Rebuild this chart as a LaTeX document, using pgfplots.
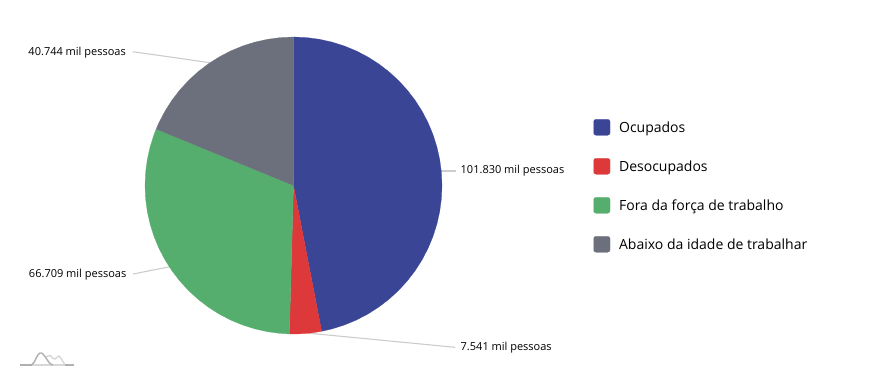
\documentclass[border=0pt]{standalone}
\usepackage{pgfplots}
\pgfplotsset{compat=1.18}
\usepackage{fontspec}
\setmainfont{Open Sans}
\definecolor{cblue}{RGB}{58,69,150}
\definecolor{cred}{RGB}{221,57,58}
\definecolor{cgreen}{RGB}{85,174,110}
\definecolor{cgray}{RGB}{108,112,124}
\definecolor{cline}{RGB}{204,204,204}
\definecolor{clogo}{RGB}{175,175,175}
\definecolor{clogolight}{RGB}{215,215,215}
\begin{document}
\begin{tikzpicture}
\begin{axis}[
  scale only axis, width=889pt, height=376pt,
  xmin=-293.5, xmax=595.5, ymin=-190.5, ymax=185.5,
  hide axis, clip=false,
  legend image code/.code={\fill[#1,rounded corners=2.5pt] (0pt,-8pt) rectangle (16.5pt,8pt);\path[draw=none,fill=none] (0pt,0pt) -- (25.5pt,0pt);},
  legend cell align=left,
  legend style={draw=none, fill=none, font=\fontsize{14}{16}\selectfont,
    at={(axis cs:300,68)}, anchor=north west,
    inner sep=0pt, outer sep=0pt,
    row sep=19.5pt,
    nodes={inner sep=0pt, minimum height=19.5pt, anchor=west, text depth=0pt}},
]
\path (axis cs:-293.5,-190.5) rectangle (axis cs:595.5,185.5);
% leader lines
\addplot[cline, line width=1.1pt, forget plot] coordinates {(-160.8,133.8) (-83.5,122.8)};
\addplot[cline, line width=1.1pt, forget plot] coordinates {(-160.5,-88.5) (-123.5,-81.2)};
\addplot[cline, line width=1.1pt, forget plot] coordinates {(140,14.5) (162,14.5)};
\addplot[cline, line width=1.1pt, forget plot] coordinates {(13.5,-147.5) (161.5,-161.8)};

% Ocupados 101830
\addplot[data cs=polar, fill=cblue, draw=cblue, line width=0.2pt] coordinates {
(0,0) (90,148.5) (85,148.5) (80,148.5) (75,148.5) (70,148.5) (65,148.5) (60,148.5) (55,148.5)
(50,148.5) (45,148.5) (40,148.5) (35,148.5) (30,148.5) (25,148.5) (20,148.5) (15,148.5) (10,148.5)
(5,148.5) (0,148.5) (-5,148.5) (-10,148.5) (-15,148.5) (-20,148.5) (-25,148.5) (-30,148.5)
(-35,148.5) (-40,148.5) (-45,148.5) (-50,148.5) (-55,148.5) (-60,148.5) (-65,148.5) (-70,148.5)
(-75,148.5) (-79.07,148.5) (0,0)} -- cycle;
\addlegendentry{Ocupados}
% Desocupados 7541
\addplot[data cs=polar, fill=cred, draw=cred, line width=0.2pt] coordinates {
(0,0) (-79.07,148.5) (-82,148.5) (-85,148.5) (-88,148.5) (-91.59,148.5) (0,0)} -- cycle;
\addlegendentry{Desocupados}
% Fora da forca de trabalho 66709
\addplot[data cs=polar, fill=cgreen, draw=cgreen, line width=0.2pt] coordinates {
(0,0) (-91.59,148.5) (-95,148.5) (-100,148.5) (-105,148.5) (-110,148.5) (-115,148.5) (-120,148.5)
(-125,148.5) (-130,148.5) (-135,148.5) (-140,148.5) (-145,148.5) (-150,148.5) (-155,148.5)
(-160,148.5) (-165,148.5) (-170,148.5) (-175,148.5) (-180,148.5) (-185,148.5) (-190,148.5)
(-195,148.5) (-200,148.5) (-202.35,148.5) (0,0)} -- cycle;
\addlegendentry{Fora da força de trabalho}
% Abaixo da idade de trabalhar 40744
\addplot[data cs=polar, fill=cgray, draw=cgray, line width=0.2pt] coordinates {
(0,0) (-202.35,148.5) (-205,148.5) (-210,148.5) (-215,148.5) (-220,148.5) (-225,148.5) (-230,148.5)
(-235,148.5) (-240,148.5) (-245,148.5) (-250,148.5) (-255,148.5) (-260,148.5) (-265,148.5)
(-270,148.5) (0,0)} -- cycle;
\addlegendentry{Abaixo da idade de trabalhar}

% value labels
\node[anchor=east, inner sep=0pt, font=\fontsize{11}{13}\selectfont] at (axis cs:-167.5,133) {40.744 mil pessoas};
\node[anchor=east, inner sep=0pt, font=\fontsize{11}{13}\selectfont] at (axis cs:-167,-89.5) {66.709 mil pessoas};
\node[anchor=west, inner sep=0pt, font=\fontsize{11}{13}\selectfont] at (axis cs:167,14.5) {101.830 mil pessoas};
\node[anchor=west, inner sep=0pt, font=\fontsize{11}{13}\selectfont] at (axis cs:167,-162) {7.541 mil pessoas};

% logo
\addplot[clogolight, line width=1.6pt, forget plot] coordinates {(-261.5,-179.5) (-228.5,-179.5)};
\addplot[clogolight, line width=1.4pt, smooth, forget plot] coordinates {(-247.5,-171.5) (-243.5,-170) (-240.5,-173) (-238.5,-173.5) (-234.5,-170.5) (-231.5,-174.5) (-228.5,-179.5)};
\addplot[clogo, line width=1.4pt, smooth, forget plot] coordinates {(-262.5,-179.5) (-259.5,-177) (-256.5,-171) (-253.5,-167.5) (-250.5,-168.5) (-246.5,-174) (-243.5,-178) (-240.5,-179.5)};
\addplot[clogo, line width=1.6pt, forget plot] coordinates {(-273.5,-179.5) (-262,-179.5)};
\addplot[clogo, line width=1.6pt, forget plot] coordinates {(-228.5,-179.5) (-220,-179.5)};
\end{axis}
\end{tikzpicture}
\end{document}
